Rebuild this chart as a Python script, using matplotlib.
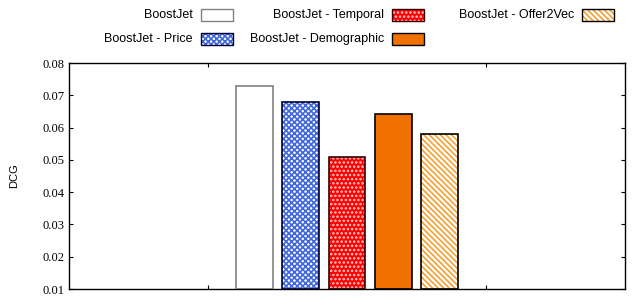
import matplotlib
matplotlib.use("Agg")
import matplotlib.pyplot as plt
from matplotlib.patches import Rectangle
import numpy as np

plt.rcParams['hatch.linewidth'] = 1.2

methods = ["BoostJet", "BoostJet - Price", "BoostJet - Temporal",
           "BoostJet - Demographic", "BoostJet - Offer2Vec"]
dcg = [0.0729, 0.0679, 0.0508, 0.0642, 0.0580]

faces = ["white", "white", "#ff0000", "#f07000", "white"]
hatch_cols = ["white", "#4068dc", "#ffd0d0", "#f07000", "#f5a030"]
hatches = [None, "xxxxxx", "....", None, "\\\\\\\\\\\\"]
edges = ["#808080", "#000033", "#330000", "black", "black"]

fig = plt.figure(figsize=(6.39, 2.97), dpi=100)
ax = fig.add_axes([69/639, 1 - 289/297, 556/639, 226/297])

step = 0.166
width = 0.133
xs = (np.arange(len(methods)) - 2) * step
for i in range(len(methods)):
    ax.bar(xs[i], dcg[i] - 0.01, width, bottom=0.01, color=faces[i],
           hatch=hatches[i], edgecolor=hatch_cols[i], linewidth=0, zorder=2)
    ax.bar(xs[i], dcg[i] - 0.01, width, bottom=0.01, fill=False,
           edgecolor=edges[i], linewidth=1.2, zorder=3)

ax.set_xlim(-1, 1)
ax.set_ylim(0.01, 0.08)
ax.set_xticks([-0.5, 0.5])
ax.set_xticklabels([])
ax.set_yticks(np.arange(0.01, 0.081, 0.01))
ax.set_yticklabels([f"{v:.2f}" for v in np.arange(0.01, 0.081, 0.01)],
                   fontfamily="Liberation Serif", fontsize=9)
ax.tick_params(direction="in", length=3, width=0.8, top=True, right=True, pad=3)
for s in ax.spines.values():
    s.set_linewidth(1.0)
ax.set_ylabel("DCG", fontfamily="Liberation Sans", fontsize=8, labelpad=17)

# legend drawn by hand: text right-aligned, swatch after it
text_ends = [193, 193, 384, 384, 574]
rows = [15, 39, 15, 39, 15]
for i in range(len(methods)):
    x0 = text_ends[i]
    yc = rows[i]
    fig.text(x0 / 639, 1 - yc / 297, methods[i], ha="right", va="center",
             fontfamily="Liberation Sans", fontsize=9)
    sx = (x0 + 8) / 639
    sy = 1 - (yc + 6) / 297
    sw, sh = 32 / 639, 12 / 297
    fig.patches.append(Rectangle((sx, sy), sw, sh, transform=fig.transFigure,
                                 facecolor=faces[i], hatch=hatches[i],
                                 edgecolor=hatch_cols[i], linewidth=0))
    fig.patches.append(Rectangle((sx, sy), sw, sh, transform=fig.transFigure,
                                 fill=False, edgecolor=edges[i], linewidth=1.0))

fig.savefig("out.png", dpi=100)
